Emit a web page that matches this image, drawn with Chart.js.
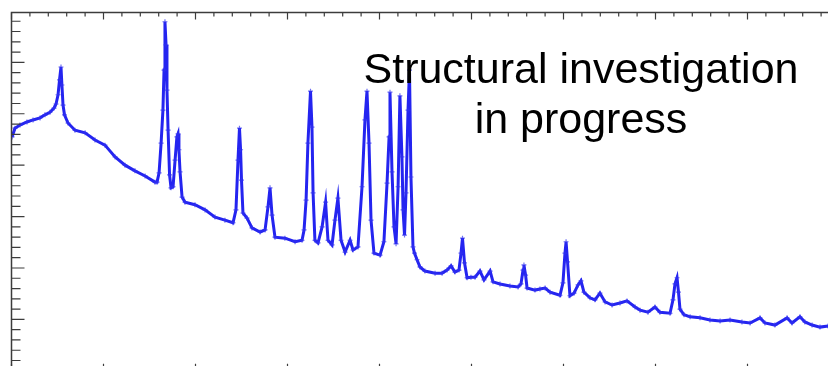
<!DOCTYPE html>
<html>
<head>
<meta charset="utf-8">
<script src="https://cdn.jsdelivr.net/npm/chart.js@4.4.1/dist/chart.umd.min.js"></script>
<style>
  html, body { margin: 0; padding: 0; background: #fff; overflow: hidden; width: 828px; height: 366px; }
  #wrap { position: relative; width: 828px; height: 366px; overflow: hidden; }
  #xrd { position: absolute; left: 0; top: 0; }
  #note {
    position: absolute; left: 331px; top: 43px; width: 500px;
    font-family: "Liberation Sans", Arial, sans-serif; font-size: 43px; line-height: 50px;
    color: #000; text-align: center;
  }
</style>
</head>
<body>
<div id="wrap">
  <canvas id="xrd" width="850" height="380"></canvas>
  <div id="note">Structural investigation<br>in progress</div>
</div>
<script>
// Diffractogramme : 2θ (degrés) et intensité (coups)
const twoTheta = [
  5.03, 5.19, 5.46, 5.84, 6.17, 6.55, 6.82, 7.09, 7.31, 7.42,
  7.53, 7.61, 7.69, 7.74, 7.80, 7.88, 8.07, 8.45, 9.00, 9.54,
  10.08, 10.63, 11.17, 11.71, 12.26, 12.80, 12.91, 13.02, 13.13, 13.23,
  13.29, 13.34, 13.40, 13.45, 13.51, 13.59, 13.67, 13.78, 13.89, 13.99,
  14.05, 14.10, 14.16, 14.27, 14.43, 14.97, 15.52, 16.06, 16.60, 17.04,
  17.20, 17.31, 17.39, 17.45, 17.50, 17.58, 17.80, 18.07, 18.51, 18.78,
  18.94, 19.05, 19.16, 19.32, 19.86, 20.41, 20.79, 20.90, 21.01, 21.11,
  21.25, 21.33, 21.39, 21.49, 21.66, 21.88, 22.07, 22.20, 22.42, 22.58,
  22.74, 22.91, 23.13, 23.40, 23.56, 23.83, 24.05, 24.21, 24.32, 24.43,
  24.54, 24.70, 25.03, 25.24, 25.41, 25.52, 25.57, 25.68, 25.79, 25.90,
  26.01, 26.11, 26.22, 26.28, 26.36, 26.44, 26.55, 26.63, 26.71, 26.82,
  26.90, 27.04, 27.20, 27.47, 28.02, 28.40, 28.67, 28.89, 29.10, 29.32,
  29.43, 29.51, 29.62, 29.76, 29.97, 30.19, 30.46, 30.68, 31.01, 31.17,
  31.55, 32.09, 32.53, 32.69, 32.80, 32.85, 32.94, 33.02, 33.45, 33.72,
  34.00, 34.27, 34.81, 34.97, 35.08, 35.14, 35.22, 35.35, 35.57, 35.79,
  35.95, 36.11, 36.44, 36.71, 36.98, 37.26, 37.64, 38.07, 38.45, 38.89,
  39.16, 39.59, 39.97, 40.24, 40.79, 40.95, 41.06, 41.17, 41.25, 41.33,
  41.55, 41.88, 42.42, 42.96, 43.51, 44.05, 44.70, 45.14, 45.68, 45.95,
  46.49, 47.15, 47.42, 47.85, 48.12, 48.51, 48.94, 49.38, 49.92
];
const intensity = [
  4550, 4720, 4780, 4840, 4880, 4920, 4980, 5030, 5110, 5190,
  5370, 5660, 5910, 5560, 5170, 4980, 4820, 4680, 4630, 4490,
  4390, 4160, 4000, 3890, 3790, 3670, 3670, 3850, 4430, 5070,
  5850, 6790, 6340, 5460, 4680, 3810, 3560, 3580, 4100, 4550,
  4610, 4300, 3870, 3380, 3280, 3230, 3130, 2990, 2930, 2880,
  3130, 4100, 4720, 4300, 3710, 3070, 2970, 2780, 2700, 2740,
  3190, 3560, 3030, 2600, 2580, 2510, 2540, 2740, 3320, 4430,
  5440, 4740, 3460, 2540, 2490, 2800, 3280, 2540, 2450, 2930,
  3360, 2540, 2310, 2540, 2350, 2410, 3580, 4880, 5440, 4430,
  2930, 2290, 2250, 2510, 3650, 4550, 5420, 3870, 2800, 2470,
  3580, 5350, 4160, 3130, 2640, 3460, 5070, 5850, 3770, 2410,
  2290, 2160, 2020, 1940, 1900, 1900, 1960, 2040, 1920, 1960,
  2290, 2580, 2100, 1810, 1820, 1820, 1940, 1770, 1940, 1730,
  1690, 1650, 1630, 1690, 1960, 2060, 1860, 1610, 1570, 1590,
  1610, 1530, 1470, 1710, 2290, 2510, 2120, 1460, 1510, 1670,
  1750, 1530, 1420, 1380, 1510, 1340, 1280, 1320, 1360, 1240,
  1180, 1140, 1240, 1140, 1120, 1380, 1690, 1810, 1530, 1200,
  1090, 1050, 1030, 990, 970, 990, 950, 930, 1030, 930,
  890, 1030, 930, 1050, 950, 890, 850, 870, 830
];

// Axes : bornes et pas des graduations (pas d'étiquettes visibles)
const xRange = [5, 50];
const xTicks = [1, 5];      // mineur, majeur
const yRange = [0, 6970];
const yTicks = [200, 1000]; // mineur, majeur

const points = twoTheta.map((t, i) => ({ x: t, y: intensity[i] }));

// Cadre et graduations tournées vers l'intérieur (gauche, haut, bas)
const framePlugin = {
  id: 'frame',
  afterDraw(chart) {
    const ctx = chart.ctx;
    const a = chart.chartArea;
    const xs = chart.scales.x;
    const ys = chart.scales.y;
    ctx.save();
    ctx.strokeStyle = '#3c3c3c';
    ctx.lineWidth = 1.5;
    ctx.strokeRect(a.left, a.top, a.right - a.left, a.bottom - a.top);
    ctx.lineWidth = 1.2;
    ctx.beginPath();
    for (let v = xRange[0]; v <= xRange[1] + 1e-9; v += xTicks[0]) {
      const px = xs.getPixelForValue(v);
      const major = Math.abs(v % xTicks[1]) < 1e-6;
      const len = major ? 7 : 4;
      ctx.moveTo(px, a.top); ctx.lineTo(px, a.top + len);
      ctx.moveTo(px, a.bottom); ctx.lineTo(px, a.bottom - len);
    }
    for (let v = yRange[0]; v <= yRange[1] + 1e-9; v += yTicks[0]) {
      const py = ys.getPixelForValue(v);
      const major = Math.abs(v % yTicks[1]) < 1e-6;
      const len = major ? 13 : 9;
      ctx.moveTo(a.left, py); ctx.lineTo(a.left + len, py);
    }
    ctx.stroke();
    ctx.restore();
  }
};

new Chart(document.getElementById('xrd'), {
  type: 'scatter',
  data: {
    datasets: [{
      data: points,
      showLine: true,
      borderColor: '#2424f0',
      borderWidth: 3,
      tension: 0,
      pointStyle: 'cross',
      pointRadius: 2.5,
      pointBorderWidth: 1.2,
      pointBorderColor: 'rgba(50, 50, 240, 0.7)',
      pointBackgroundColor: 'rgba(50, 50, 240, 0.7)'
    }]
  },
  options: {
    responsive: false,
    devicePixelRatio: 1,
    animation: false,
    layout: { padding: { left: 11.5, top: 12.5, right: 10.5, bottom: 9.2 } },
    plugins: { legend: { display: false }, tooltip: { enabled: false } },
    scales: {
      x: { type: 'linear', min: xRange[0], max: xRange[1], display: false },
      y: { type: 'linear', min: yRange[0], max: yRange[1], display: false }
    }
  },
  plugins: [framePlugin]
});
</script>
</body>
</html>
